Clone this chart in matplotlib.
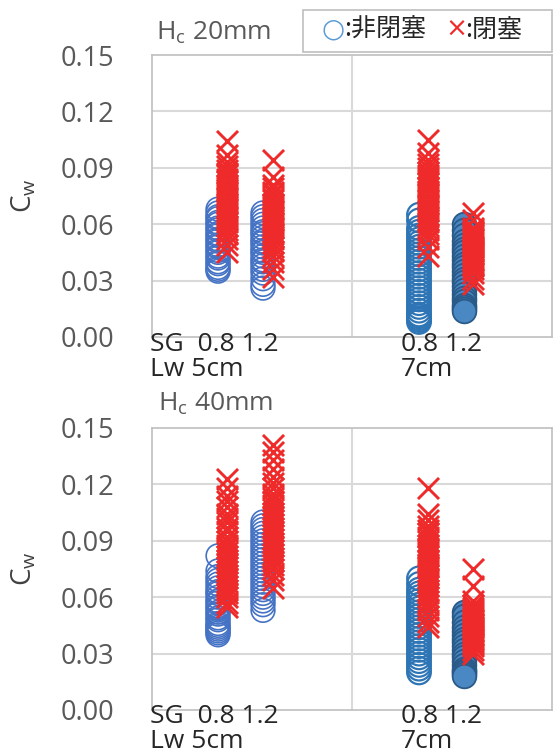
import matplotlib
matplotlib.use("Agg")
import matplotlib.pyplot as plt
from matplotlib.patches import Rectangle

plt.rcParams['font.family'] = ['Open Sans', 'Noto Sans CJK JP', 'DejaVu Sans']
plt.rcParams['mathtext.fontset'] = 'custom'
plt.rcParams['mathtext.rm'] = 'Open Sans'
plt.rcParams['mathtext.it'] = 'Open Sans'

# ---- data ----
panel_titles = ["20mm", "40mm"]
y_ticks = [0.00, 0.03, 0.06, 0.09, 0.12, 0.15]
y_tick_labels = ["0.00", "0.03", "0.06", "0.09", "0.12", "0.15"]
group_labels_left = ["SG  0.8 1.2", "Lw 5cm"]
group_labels_right = ["0.8 1.2", "7cm"]

# column positions (x axis 0..2, divider at 1)
x_blue = [0.33, 0.555, 1.335, 1.56]
x_red = [0.375, 0.603, 1.38, 1.607]

# Hc 20mm
top_blue = [
    [0.068,0.066,0.064,0.063,0.061,0.060,0.058,0.057,0.055,0.054,0.052,0.051,0.049,0.048,0.046,0.045,0.043,0.042,0.040,0.039,0.037,0.036,0.035],
    [0.066,0.064,0.062,0.060,0.058,0.056,0.055,0.053,0.051,0.050,0.048,0.046,0.045,0.043,0.041,0.040,0.038,0.036,0.034,0.031,0.028,0.026],
    [0.065,0.062,0.058,0.056,0.054,0.052,0.050,0.048,0.046,0.044,0.042,0.040,0.038,0.036,0.034,0.032,0.030,0.028,0.026,0.024,0.022,0.020,0.018,0.016,0.014,0.012,0.011,0.010,0.009,0.008],
    [0.060,0.057,0.054,0.051,0.049,0.047,0.045,0.043,0.041,0.039,0.037,0.035,0.033,0.031,0.029,0.027,0.025,0.023,0.021,0.019,0.017,0.016,0.015,0.014],
]
top_red = [
    [0.104,0.097,0.093,0.091,0.089,0.087,0.086,0.084,0.083,0.081,0.080,0.078,0.077,0.075,0.074,0.072,0.071,0.069,0.068,0.066,0.064,0.063,0.061,0.059,0.057,0.055,0.052,0.049,0.045],
    [0.094,0.085,0.081,0.079,0.077,0.076,0.074,0.073,0.071,0.070,0.068,0.067,0.065,0.064,0.062,0.061,0.059,0.058,0.056,0.055,0.053,0.052,0.050,0.048,0.046,0.043,0.040,0.036,0.032],
    [0.105,0.098,0.094,0.092,0.090,0.088,0.086,0.085,0.083,0.082,0.080,0.079,0.077,0.076,0.074,0.073,0.071,0.070,0.068,0.067,0.065,0.064,0.062,0.061,0.059,0.057,0.055,0.052,0.048,0.043],
    [0.066,0.062,0.058,0.057,0.056,0.055,0.054,0.053,0.052,0.051,0.050,0.049,0.048,0.047,0.046,0.045,0.044,0.043,0.042,0.041,0.040,0.039,0.038,0.036,0.034,0.031,0.028],
]
# Hc 40mm
bot_blue = [
    [0.082,0.074,0.071,0.069,0.067,0.065,0.063,0.062,0.060,0.058,0.057,0.055,0.054,0.052,0.051,0.049,0.048,0.046,0.045,0.044,0.043,0.042,0.041,0.040],
    [0.100,0.098,0.096,0.094,0.092,0.090,0.088,0.086,0.084,0.082,0.080,0.078,0.076,0.074,0.072,0.070,0.068,0.066,0.064,0.062,0.060,0.058,0.056,0.053],
    [0.070,0.067,0.064,0.062,0.060,0.058,0.056,0.054,0.052,0.050,0.048,0.046,0.044,0.042,0.040,0.038,0.036,0.034,0.032,0.030,0.028,0.026,0.024,0.022,0.020],
    [0.052,0.050,0.047,0.044,0.042,0.040,0.038,0.036,0.034,0.032,0.030,0.028,0.026,0.024,0.022,0.021,0.020,0.019,0.018],
]
bot_red = [
    [0.123,0.118,0.114,0.111,0.108,0.104,0.102,0.100,0.097,0.095,0.092,0.090,0.088,0.086,0.084,0.082,0.080,0.078,0.076,0.074,0.072,0.070,0.068,0.066,0.064,0.062,0.060,0.057,0.055],
    [0.141,0.137,0.133,0.128,0.124,0.121,0.118,0.115,0.113,0.111,0.109,0.107,0.105,0.103,0.101,0.099,0.097,0.095,0.093,0.091,0.089,0.087,0.085,0.083,0.081,0.079,0.077,0.075,0.072,0.069,0.065],
    [0.118,0.104,0.101,0.098,0.096,0.094,0.092,0.090,0.088,0.086,0.085,0.083,0.082,0.080,0.079,0.077,0.076,0.074,0.072,0.070,0.068,0.066,0.064,0.062,0.060,0.058,0.056,0.053,0.050,0.047,0.044],
    [0.075,0.066,0.058,0.056,0.054,0.053,0.052,0.051,0.050,0.049,0.048,0.047,0.046,0.045,0.044,0.043,0.042,0.041,0.040,0.039,0.038,0.037,0.036,0.035,0.034,0.032,0.030],
]

# ---- styling per column ----
blue_face = ['none', 'none', 'none', '#4a88c4']
blue_edge = ['#4472c4', '#4472c4', '#2e75b6', '#2a5a88']
blue_lw = [1.2, 1.2, 1.6, 1.3]
red = '#ee2a2a'

W, H = 554, 755
fig = plt.figure(figsize=(W / 100, H / 100), dpi=100)

def fx(px):
    return px / W

def fy(py):
    return 1 - py / H

def draw_panel(top_px, bot_px, blues, reds):
    ax = fig.add_axes([fx(152), fy(bot_px), fx(552) - fx(152), fy(top_px) - fy(bot_px)])
    ax.set_xlim(0, 2)
    ax.set_ylim(0, 0.15)
    ax.set_yticks(y_ticks)
    ax.set_yticklabels(y_tick_labels)
    ax.set_xticks([])
    ax.tick_params(axis='y', length=0, pad=27, labelsize=19.5, labelcolor='#595959')
    for s in ax.spines.values():
        s.set_color('#bfbfbf')
        s.set_linewidth(1.2)
    for t in y_ticks[1:-1]:
        ax.axhline(t, color='#d9d9d9', lw=1.5, zorder=0)
    ax.axvline(1.0, color='#d9d9d9', lw=1.5, zorder=0)
    for i in range(4):
        ax.scatter([x_blue[i]] * len(blues[i]), blues[i], s=290, marker='o',
                   facecolors=blue_face[i], edgecolors=blue_edge[i],
                   linewidths=blue_lw[i], zorder=2, clip_on=False)
    for i in range(4):
        ax.scatter([x_red[i]] * len(reds[i]), reds[i], s=230, marker='x',
                   color=red, linewidths=2.1, zorder=3, clip_on=False)
    return ax

draw_panel(55, 337, top_blue, top_red)
draw_panel(428, 710, bot_blue, bot_red)

# titles
fig.text(fx(156), fy(33), r"H$_\mathregular{c}$ " + panel_titles[0], fontsize=19, color='#595959', va='center', ha='left')
fig.text(fx(158), fy(404), r"H$_\mathregular{c}$ " + panel_titles[1], fontsize=19, color='#595959', va='center', ha='left')

# y labels
for yc in (196, 569):
    fig.text(fx(24), fy(yc), r"C$_\mathregular{w}$", fontsize=20, color='#404040',
             rotation=90, va='center', ha='center')

# x labels (two lines each)
lab_col = '#262626'
for yc in (357, 729):
    fig.text(fx(150), fy(yc), "\n".join(group_labels_left), fontsize=19, color=lab_col,
             va='center', ha='left', linespacing=0.95)
    fig.text(fx(401), fy(yc), "\n".join(group_labels_right), fontsize=19, color=lab_col,
             va='center', ha='left', linespacing=0.95)

# legend box
fig.patches.append(Rectangle((fx(303), fy(52)), fx(552) - fx(303), fy(10) - fy(52),
                             transform=fig.transFigure, facecolor='white',
                             edgecolor='#bfbfbf', lw=1.2, zorder=5))
fig.text(fx(333), fy(30), "○", fontsize=19, color='#5b9bd5', va='center', ha='center',
         family=['DejaVu Sans'], zorder=6)
fig.text(fx(344), fy(30), ":非閉塞", fontsize=18, color='#262626', va='center', ha='left',
         family=['Noto Sans CJK JP', 'DejaVu Sans'], zorder=6)
fig.text(fx(456), fy(30), "×", fontsize=19, color=red, va='center', ha='center',
         family=['DejaVu Sans'], zorder=6)
fig.text(fx(465), fy(30), ":閉塞", fontsize=18, color='#262626', va='center', ha='left',
         family=['Noto Sans CJK JP', 'DejaVu Sans'], zorder=6)

fig.savefig("out.png", dpi=100)
